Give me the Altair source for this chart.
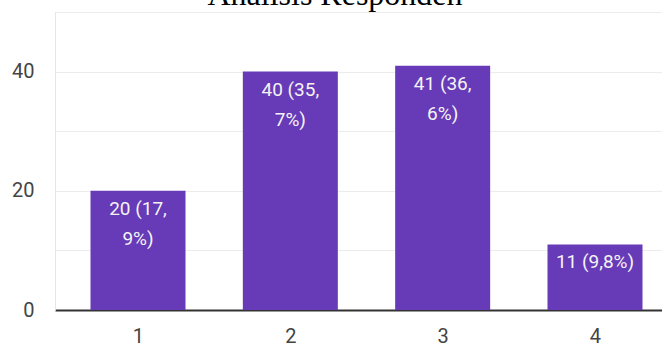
import altair as alt
import pandas as pd

categories = [1, 2, 3, 4]
counts = [20, 40, 41, 11]
percents = ["17,9%", "35,7%", "36,6%", "9,8%"]
title_text = "Analisis Responden"


def make_label(c, p):
    s = f"{c} ({p})"
    if len(s) > 9:
        head, tail = s.split(",", 1)
        return head + ",|" + tail
    return s


df = pd.DataFrame({
    "cat": categories,
    "count": counts,
    "label": [make_label(c, p) for c, p in zip(counts, percents)],
})

x = alt.X(
    "cat:Q",
    scale=alt.Scale(domain=[0.488, 4.407], nice=False, zero=False),
    axis=alt.Axis(
        values=categories, title=None, grid=False, ticks=False, tickSize=0,
        labelFontSize=20, labelFont="Roboto", labelColor="#444444",
        labelPadding=16, domainColor="#333333", domainWidth=2,
        format="d",
    ),
)
y = alt.Y(
    "count:Q",
    scale=alt.Scale(domain=[0, 50], nice=False),
    axis=alt.Axis(
        values=[0, 10, 20, 30, 40, 50], title=None, ticks=False, tickSize=0,
        labelExpr="datum.value % 20 == 0 ? datum.label : ''",
        labelFontSize=20, labelFont="Roboto", labelColor="#444444",
        labelPadding=21, gridColor="#ececec", gridWidth=1,
        domainColor="#e6e6e6", domainWidth=1,
    ),
)

bars = alt.Chart(df).mark_bar(size=95, color="#673AB7").encode(x=x, y=y)

labels = alt.Chart(df).mark_text(
    baseline="top", align="center", dy=9, fontSize=19, font="Roboto",
    color="#f4f4f4", lineBreak="|", lineHeight=30,
).encode(x="cat:Q", y="count:Q", text="label:N")

title = alt.Chart(pd.DataFrame({"t": [title_text]})).mark_text(
    font="Liberation Serif", fontSize=32, color="#000000",
    align="center", baseline="alphabetic",
).encode(x=alt.value(280), y=alt.value(-7), text="t:N")

chart = (bars + labels + title).properties(
    width=607, height=298,
    padding={"left": 55, "top": 12, "right": 0, "bottom": 33},
    autosize=alt.AutoSizeParams(type="none"),
).configure_view(stroke=None).configure(background="white")

chart.save("out.html", embed_options={"renderer": "svg", "actions": False})
